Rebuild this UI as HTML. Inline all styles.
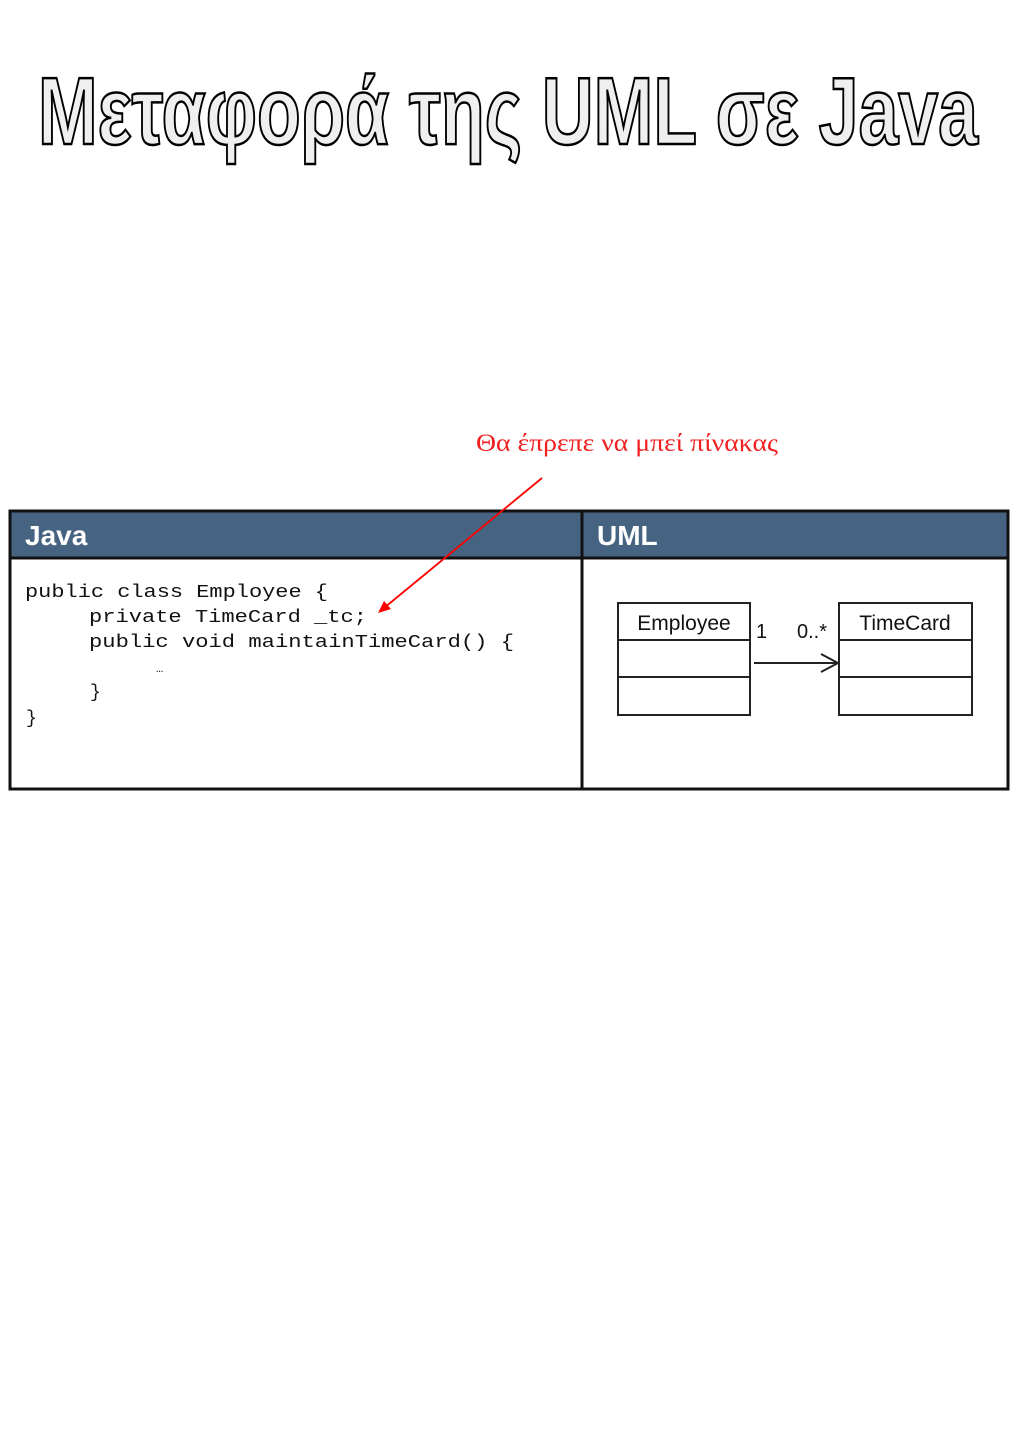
<!DOCTYPE html>
<html><head><meta charset="utf-8"><style>
html,body{margin:0;padding:0;background:#fff;}
svg{display:block}
</style></head><body>
<svg width="1024" height="1448" viewBox="0 0 1024 1448" xmlns="http://www.w3.org/2000/svg">
<text x="38" y="144" textLength="940" lengthAdjust="spacingAndGlyphs" font-family="'Liberation Sans Narrow','Liberation Sans',sans-serif" font-weight="bold" font-size="96" fill="#efefef" stroke="#000" stroke-width="2.5">Μεταφορά της UML σε Java</text>

<text x="476" y="451" textLength="302" lengthAdjust="spacingAndGlyphs" font-family="'Liberation Serif',serif" font-size="25" fill="#f02020">Θα έπρεπε να μπεί πίνακας</text>

<g>
<rect x="10" y="511" width="998" height="47" fill="#466482"/>
<rect x="10" y="511" width="998" height="278" fill="none" stroke="#111" stroke-width="3"/>
<line x1="10" y1="558" x2="1008" y2="558" stroke="#111" stroke-width="3"/>
<line x1="582" y1="511" x2="582" y2="789" stroke="#111" stroke-width="3"/>
<text x="25" y="545" font-family="'Liberation Sans Narrow','Liberation Sans',sans-serif" font-weight="bold" font-size="28" fill="#fff">Java</text>
<text x="597" y="545" font-family="'Liberation Sans Narrow','Liberation Sans',sans-serif" font-weight="bold" font-size="28" fill="#fff">UML</text>
<g font-family="'Liberation Mono',monospace" font-size="18" fill="#111">
<text x="25" y="597" textLength="303" lengthAdjust="spacingAndGlyphs">public class Employee {</text>
<text x="89" y="622" textLength="278" lengthAdjust="spacingAndGlyphs">private TimeCard _tc;</text>
<text x="89" y="647" textLength="425" lengthAdjust="spacingAndGlyphs">public void maintainTimeCard() {</text>
<text x="156" y="672" font-size="12">…</text>
<text x="90" y="697">}</text>
<text x="26" y="723">}</text>
</g>
<g font-family="'Liberation Sans',sans-serif" fill="#111">
<g>
<rect x="618" y="603" width="132" height="112" fill="#fff" stroke="#222" stroke-width="2"/>
<line x1="618" y1="640" x2="750" y2="640" stroke="#222" stroke-width="2"/>
<line x1="618" y1="677" x2="750" y2="677" stroke="#222" stroke-width="2"/>
<text x="684" y="630" text-anchor="middle" font-size="21">Employee</text>
</g>
<g>
<rect x="839" y="603" width="133" height="112" fill="#fff" stroke="#222" stroke-width="2"/>
<line x1="839" y1="640" x2="972" y2="640" stroke="#222" stroke-width="2"/>
<line x1="839" y1="677" x2="972" y2="677" stroke="#222" stroke-width="2"/>
<text x="905" y="630" text-anchor="middle" font-size="21">TimeCard</text>
</g>
<g>
<line x1="754" y1="663" x2="838" y2="663" stroke="#222" stroke-width="2"/>
<polyline points="821,654 838,663 821,672" fill="none" stroke="#222" stroke-width="2"/>
<text x="756" y="638" font-size="20">1</text>
<text x="797" y="638" font-size="20">0..*</text>
</g>
</g>
</g>

<g>
<line x1="542" y1="478" x2="384" y2="608" stroke="#f00" stroke-width="1.8"/>
<polygon points="378,613 384,601 391,609" fill="#f00"/>
</g>
</svg>
</body></html>
